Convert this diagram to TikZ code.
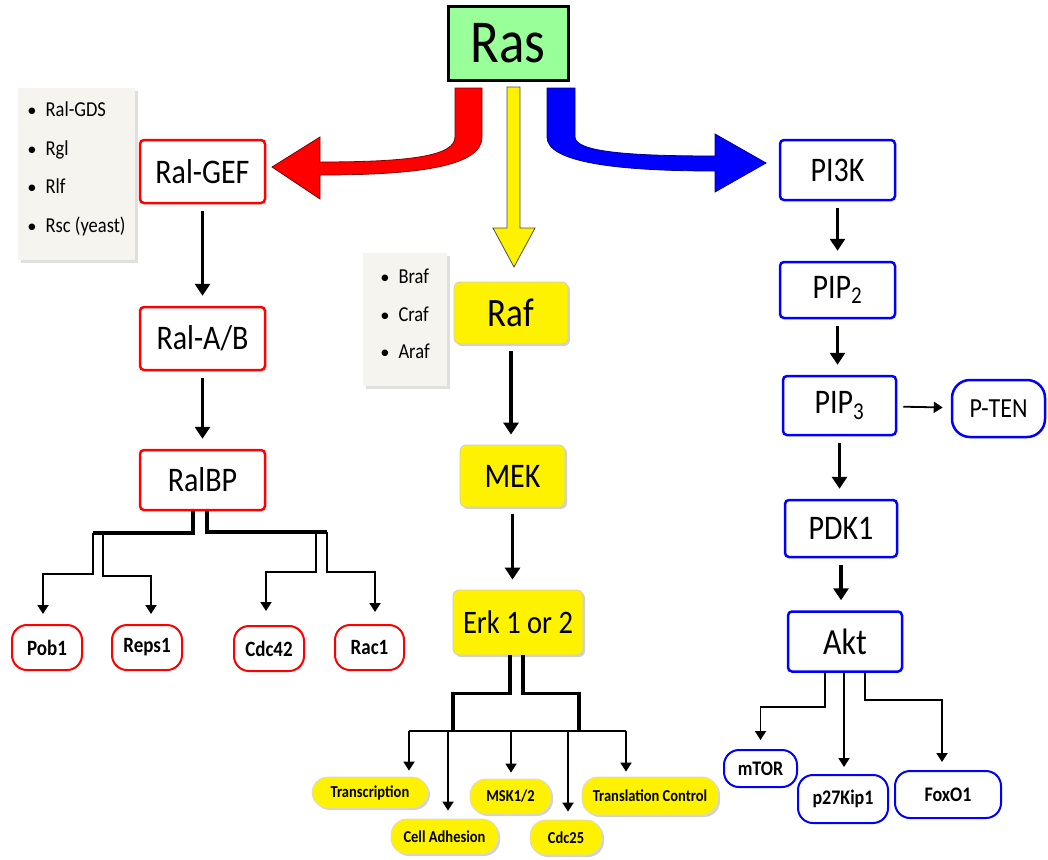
\documentclass[tikz,border=0pt]{standalone}
\usepackage{fontspec}
\setmainfont{Carlito}
\usetikzlibrary{arrows.meta,shadows}

\definecolor{rasgreen}{RGB}{153,255,153}
\definecolor{notepaper}{RGB}{245,244,238}

\newcommand{\fsz}[1]{\fontsize{#1}{#1}\selectfont}
\newcommand{\tall}[1]{\scalebox{1}[1.15]{#1}}

\begin{document}
\begin{tikzpicture}[x=1pt,y=-1pt,>={Triangle[width=15pt,length=12pt]},
    box/.style={rectangle,inner sep=0pt,line width=2.5pt,rounded corners=4pt,fill=white,font=\fsz{30}},
    redbox/.style={box,draw=red},
    bluebox/.style={box,draw=blue},
    ybox/.style={box,line width=0.8pt,draw=black!20,fill=yellow,rounded corners=6pt,
        drop shadow={shadow xshift=2pt,shadow yshift=-2pt,fill=black!35}},
    pill/.style={rectangle,inner sep=0pt,line width=2pt,rounded corners=15pt,fill=white,font=\bfseries\fsz{19}},
    redpill/.style={pill,draw=red},
    bluepill/.style={pill,draw=blue,font=\bfseries\fsz{18}},
    ypill/.style={pill,line width=0.8pt,draw=black!15,fill=yellow,rounded corners=16pt,font=\bfseries\fsz{14.5},
        drop shadow={shadow xshift=2pt,shadow yshift=-2pt,fill=black!35}},
    note/.style={rectangle,inner sep=0pt,fill=notepaper,font=\fsz{18.5},
        drop shadow={shadow xshift=3pt,shadow yshift=-3pt,fill=black!25}},
    chain/.style={->,line width=3.5pt,shorten <=7pt,shorten >=10pt},
    trunk/.style={line width=3.5pt},
    drop/.style={-{Triangle[width=11pt,length=9pt]},line width=1.8pt}]

\useasboundingbox (0,0) rectangle (1048,859);

% Ras and the three big arrows
\node[rectangle,draw=black,line width=3pt,fill=rasgreen,minimum width=120pt,minimum height=73pt,
      font=\fsz{53}] (ras) at (508,43.5) {\tall{Ras}};

\filldraw[fill=red,draw=red!50!black,line width=0.8pt]
    (455,88) -- (482,88) -- (482,137) .. controls (482,166) and (420,175) .. (320,175)
    -- (320,199) -- (272,167) -- (320,137) -- (320,162)
    .. controls (410,162) and (455,156) .. (455,137) -- cycle;
\filldraw[fill=yellow,draw=black!70,line width=0.8pt]
    (507,87) -- (520,87) -- (520,228) -- (535,228) -- (514,267) -- (493,228) -- (507,228) -- cycle;
\filldraw[fill=blue,draw=blue!50!black,line width=0.8pt]
    (547,88) -- (575,88) -- (575,137) .. controls (575,152) and (630,156) .. (715,156)
    -- (715,134) -- (766,163) -- (715,192) -- (715,171)
    .. controls (615,171) and (547,162) .. (547,137) -- cycle;

% Ral branch
\node[note,minimum width=117pt,minimum height=172pt] (ralnote) at (76.5,174)
    {\begin{tabular}{@{}l@{\hspace{9pt}}l@{}}
     \textbullet & \tall{Ral-GDS}\\[18pt] \textbullet & \tall{Rgl}\\[18pt] \textbullet & \tall{Rlf}\\[18pt]
     \textbullet & \tall{Rsc (yeast)}\\[8pt]
     \end{tabular}};
\node[redbox,minimum width=125pt,minimum height=63pt] (ralgef) at (202.5,171.5) {\tall{Ral-GEF}};
\node[redbox,minimum width=125pt,minimum height=63pt] (ralab) at (202.5,338.5) {\tall{Ral-A/B}};
\node[redbox,minimum width=125pt,minimum height=60pt] (ralbp) at (202.5,480) {\tall{RalBP}};
\node[redpill,minimum width=70pt,minimum height=45pt] (pob1) at (47,647.5) {\tall{Pob1}};
\node[redpill,minimum width=70pt,minimum height=45pt] (reps1) at (147,647.5) {\tall{Reps1}};
\node[redpill,minimum width=70pt,minimum height=45pt] (cdc42) at (269,648.5) {\tall{Cdc42}};
\node[redpill,minimum width=69pt,minimum height=45pt] (rac1) at (369.5,647.5) {\tall{Rac1}};

% Raf branch
\node[note,minimum width=84pt,minimum height=133pt] (rafnote) at (405,319.5)
    {\begin{tabular}{@{}l@{\hspace{9pt}}l@{}}
     \textbullet & \tall{Braf}\\[17pt] \textbullet & \tall{Craf}\\[17pt] \textbullet & \tall{Araf}\\[6pt]
     \end{tabular}};
\node[ybox,minimum width=114pt,minimum height=62pt,font=\fsz{35}] (raf) at (511,313) {\tall{Raf}};
\node[ybox,minimum width=105pt,minimum height=62pt] (mek) at (512.5,476) {\tall{MEK}};
\node[ybox,minimum width=130pt,minimum height=65pt,font=\fsz{28.5}] (erk) at (518,622.5) {\tall{Erk 1 or 2}};
\node[ypill,minimum width=116pt,minimum height=31pt] (transcr) at (370,792.5) {\tall{Transcription}};
\node[ypill,minimum width=107pt,minimum height=35pt] (celladh) at (444.5,836.5) {\tall{Cell Adhesion}};
\node[ypill,minimum width=81pt,minimum height=35pt] (msk) at (510.5,796.5) {\tall{MSK1/2}};
\node[ypill,minimum width=72pt,minimum height=35pt] (cdc25) at (566,837.5) {\tall{Cdc25}};
\node[ypill,minimum width=136pt,minimum height=38pt] (transl) at (650,796) {\tall{Translation Control}};

% PI3K branch
\node[bluebox,minimum width=115pt,minimum height=60pt] (pi3k) at (837.5,170) {\tall{PI3K}};
\node[bluebox,minimum width=115pt,minimum height=56pt] (pip2) at (837.5,290) {\tall{PIP\textsubscript{2}}};
\node[bluebox,minimum width=113pt,minimum height=59pt] (pip3) at (839.5,405.5) {\tall{PIP\textsubscript{3}}};
\node[pill,draw=blue,line width=2.5pt,rounded corners=18pt,minimum width=93pt,minimum height=57pt,
      font=\fsz{24}] (pten) at (998.5,408.5) {\tall{P-TEN}};
\node[bluebox,minimum width=112pt,minimum height=57pt] (pdk1) at (841,528.5) {\tall{PDK1}};
\node[bluebox,minimum width=114pt,minimum height=60pt,font=\fsz{32}] (akt) at (845,641.5) {\tall{Akt}};
\node[bluepill,minimum width=73pt,minimum height=37pt] (mtor) at (760.5,768.5) {\tall{mTOR}};
\node[bluepill,minimum width=90pt,minimum height=48pt] (p27) at (843,799) {\tall{p27Kip1}};
\node[bluepill,minimum width=106pt,minimum height=47pt] (foxo1) at (948,794.5) {\tall{FoxO1}};

\foreach \from/\to in {ralgef/ralab, ralab/ralbp, raf/mek, mek/erk,
                       pi3k/pip2, pip2/pip3, pip3/pdk1, pdk1/akt} {
    \draw[chain] (\from.south) -- (\from.south |- \to.north);
}
\draw[drop,shorten <=6pt,shorten >=8pt] (pip3) -- (pten);

% splits under RalBP
\coordinate (rl) at (93,533);
\coordinate (rr) at (327,532);
\draw[trunk] ([xshift=-9.5pt]ralbp.south) |- (rl);
\draw[trunk] ([xshift=4.5pt]ralbp.south) |- (rr);
\draw[drop,shorten >=10pt] (rl) -- ++(0,41) -| ([xshift=-4pt]pob1.north);
\draw[drop,shorten >=10pt] ([xshift=10pt]rl) -- ++(0,43) -| ([xshift=4pt]reps1.north);
\draw[drop,shorten >=14pt] ([xshift=-11pt]rr) -- ++(0,40) -| ([xshift=-3pt]cdc42.north);
\draw[drop,shorten >=12pt] (rr) -- ++(0,40) -| ([xshift=5.5pt]rac1.north);

% splits under Erk
\coordinate (el) at (409,731);
\coordinate (er) at (626,731);
\draw[trunk] ([xshift=-8pt]erk.south) -- ++(0,38) -| (453,731);
\draw[trunk] ([xshift=5pt]erk.south) -- ++(0,38) -| (579,731);
\draw[line width=1.8pt] (el) -- (er);
\draw[drop,shorten >=6pt] (el) -- (el |- transcr.north);
\draw[drop,shorten >=8pt] (448,731) -- (448,731 |- celladh.north);
\draw[drop,shorten >=6pt] (511,731) -- (511,731 |- msk.north);
\draw[drop,shorten >=8pt] (568,731) -- (568,731 |- cdc25.north);
\draw[drop,shorten >=5pt] (er) -- (er |- transl.north);

% splits under Akt
\draw[drop,shorten >=9pt] ([xshift=-20pt]akt.south) -- ++(0,34) -| (mtor.north);
\draw[drop,shorten >=7pt] ([xshift=-1pt]akt.south) -- ([xshift=-1pt]akt.south |- p27.north);
\draw[drop,shorten >=8pt] ([xshift=20pt]akt.south) -- ++(0,27) -| ([xshift=-6pt]foxo1.north);

\end{tikzpicture}
\end{document}
